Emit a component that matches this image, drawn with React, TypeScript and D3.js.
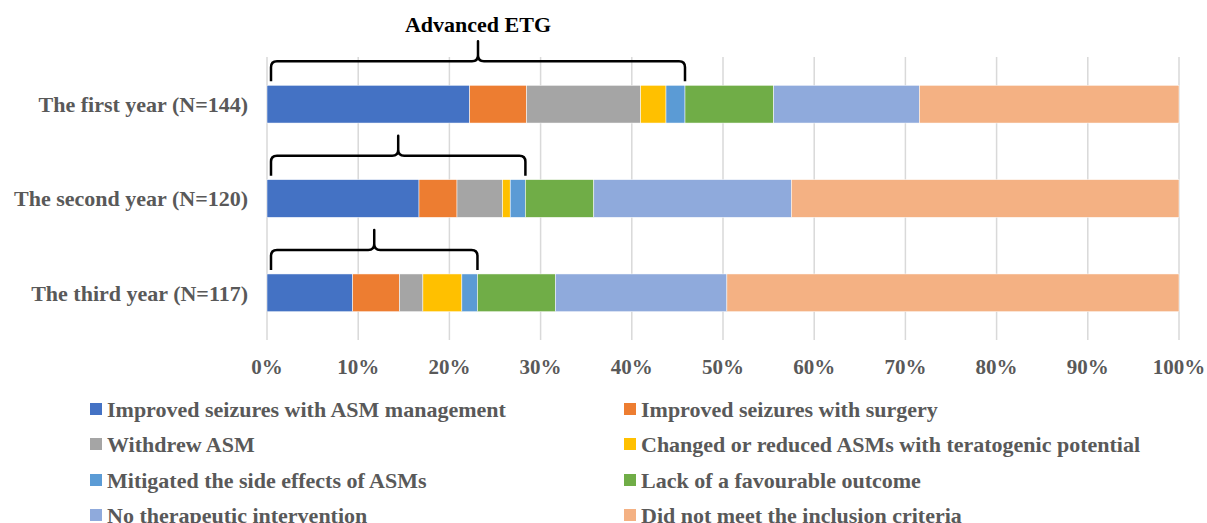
import React from "react";
import * as d3 from "d3";

const categories = [
  "Improved seizures with ASM management",
  "Improved seizures with surgery",
  "Withdrew ASM",
  "Changed or reduced ASMs with teratogenic potential",
  "Mitigated the side effects of ASMs",
  "Lack of a favourable outcome",
  "No therapeutic intervention",
  "Did not meet the inclusion criteria",
];
const colors = ["#4472C4", "#ED7D31", "#A5A5A5", "#FFC000", "#5B9BD5", "#70AD47", "#8FAADC", "#F4B183"];
const years = ["The first year (N=144)", "The second year (N=120)", "The third year (N=117)"];
const totals = [144, 120, 117];
const firstYear = [32, 9, 18, 4, 3, 14, 23, 41];
const secondYear = [20, 5, 6, 1, 2, 9, 26, 51];
const thirdYear = [11, 6, 3, 5, 2, 10, 22, 58];
const counts = [firstYear, secondYear, thirdYear];
const advancedCount = 5; // first five categories form "Advanced ETG"
const ticks = [0, 0.1, 0.2, 0.3, 0.4, 0.5, 0.6, 0.7, 0.8, 0.9, 1];

const W = 1207, H = 523;
const FONT = "'Liberation Serif', 'Times New Roman', serif";
const GRAY = "#595959";

export default function App() {
  const x = d3.scaleLinear().domain([0, 1]).range([267, 1179]);
  const y = d3.scaleBand<string>().domain(years).range([57, 340]).paddingInner(0.6).paddingOuter(0.3);
  const pct = d3.format(".0%");

  const rows = counts.map((c, i) => {
    const share = c.map((v) => v / totals[i]);
    const cum = d3.cumsum(share);
    return share.map((s, j) => ({ x0: cum[j] - s, x1: cum[j], color: colors[j] }));
  });

  const brace = (x0: number, x1: number, yh: number) => {
    const r = 6;
    const xm = (x0 + x1) / 2;
    const yb = yh + 20;
    const yt = yh - 20;
    return `M${x0},${yb} L${x0},${yh + r} Q${x0},${yh} ${x0 + r},${yh} L${xm - r},${yh} Q${xm},${yh} ${xm},${yh - r} L${xm},${yt} L${xm},${yh - r} Q${xm},${yh} ${xm + r},${yh} L${x1 - r},${yh} Q${x1},${yh} ${x1},${yh + r} L${x1},${yb}`;
  };

  const legendRows = [409, 444, 480, 515];
  const legendCols = [90, 624];

  return (
    <svg width={W} height={H} style={{ position: "absolute", left: 0, top: 0, background: "#fff" }} fontFamily={FONT}>
      {ticks.map((t) => (
        <line key={t} x1={x(t)} x2={x(t)} y1={57} y2={340} stroke="#d9d9d9" strokeWidth={1.5} />
      ))}
      {rows.map((segs, i) =>
        segs.map((s, j) => (
          <rect key={`${i}-${j}`} x={x(s.x0)} y={y(years[i])!} width={x(s.x1) - x(s.x0)} height={y.bandwidth()} fill={s.color} stroke="#fff" strokeWidth={0.5} />
        ))
      )}
      {rows.map((segs, i) => {
        const yh = y(years[i])! - 24;
        const xe = x(segs[advancedCount - 1].x1);
        return <path key={i} d={brace(x(0) + 4, xe, yh)} fill="none" stroke="#000" strokeWidth={2.5} strokeLinejoin="round" />;
      })}
      <text x={x(rows[0][advancedCount - 1].x1 / 2) + 2} y={32} textAnchor="middle" fontSize={22} fontWeight="bold" fill="#000">
        Advanced ETG
      </text>
      {years.map((yr) => (
        <text key={yr} x={248} y={y(yr)! + y.bandwidth() / 2} dy="0.35em" textAnchor="end" fontSize={22} fontWeight="bold" fill={GRAY}>
          {yr}
        </text>
      ))}
      {ticks.map((t) => (
        <text key={t} x={x(t)} y={374} textAnchor="middle" fontSize={21} fontWeight="bold" fill={GRAY}>
          {pct(t)}
        </text>
      ))}
      {categories.map((c, k) => {
        const col = k % 2;
        const row = Math.floor(k / 2);
        const lx = legendCols[col];
        const ly = legendRows[row];
        return (
          <g key={c}>
            <rect x={lx} y={ly - 6} width={12} height={12} fill={colors[k]} />
            <text x={lx + 17} y={ly} dy="0.35em" fontSize={22} fontWeight="bold" fill={GRAY}>
              {c}
            </text>
          </g>
        );
      })}
    </svg>
  );
}
